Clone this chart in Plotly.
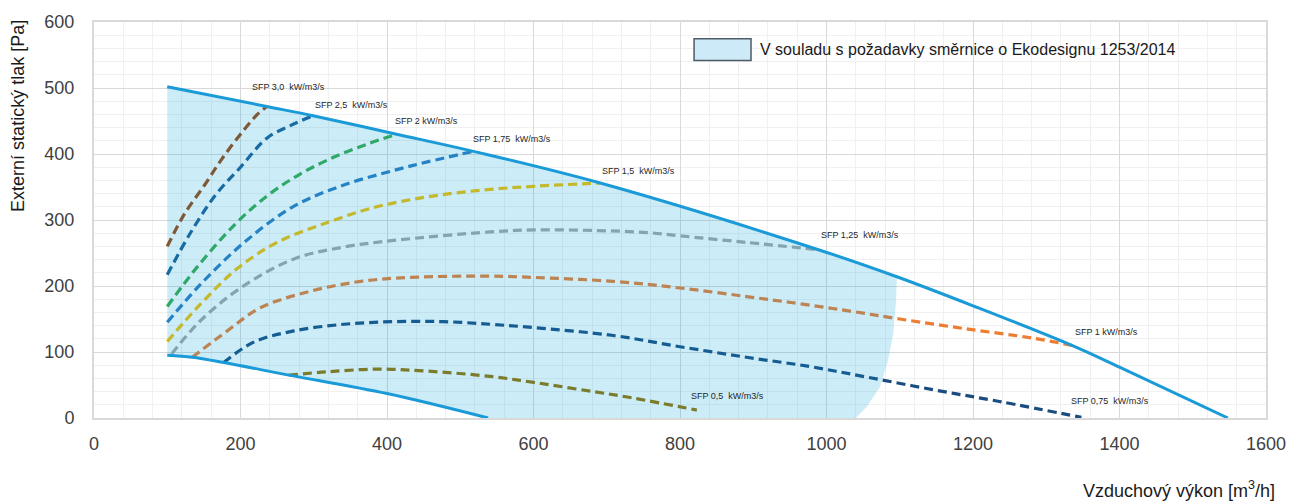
import plotly.graph_objects as go

# ---------------- data ----------------
upper_x = [100, 236, 299, 413, 518, 691, 989, 1096, 1200, 1335, 1400, 1548]
upper_y = [502, 472, 458, 430, 404, 356, 255, 214, 170, 110, 77, 0]
lower_x = [100, 134, 177, 266, 400, 538]
lower_y = [95, 92, 84, 65, 37, 0]
edge_x = [1096, 1095, 1091, 1084, 1073, 1055, 1040]
edge_y = [214, 177, 127, 87, 47, 17, 0]

sfp30_x = [100, 124, 151, 173, 200, 223, 236]
sfp30_y = [260, 310, 353, 390, 430, 460, 472]
sfp25_x = [100, 132, 166, 200, 236, 268, 299]
sfp25_y = [217, 281, 338, 380, 424, 443, 458]
sfp20_x = [100, 141, 193, 238, 282, 327, 373, 413]
sfp20_y = [169, 229, 294, 338, 370, 395, 415, 430]
sfp175_x = [100, 145, 205, 273, 341, 409, 455, 518]
sfp175_y = [145, 202, 266, 321, 353, 375, 388, 404]
sfp15_x = [100, 145, 195, 250, 318, 386, 455, 527, 600, 691]
sfp15_y = [116, 172, 226, 266, 296, 320, 335, 345, 351, 356]
sfp125_x = [106, 145, 200, 273, 341, 409, 541, 600, 686, 755, 800, 891, 989]
sfp125_y = [97, 147, 197, 241, 259, 269, 282, 285, 284, 281, 276, 266, 255]
sfp10_x = [134, 182, 227, 295, 364, 432, 541, 600, 709, 800, 891, 964, 1032, 1100, 1191, 1282, 1335]
sfp10_y = [92, 132, 167, 192, 207, 213, 215, 213, 207, 197, 184, 173, 162, 150, 135, 121, 110]
sfp075_x = [177, 218, 273, 341, 409, 477, 541, 600, 709, 800, 891, 977, 1055, 1145, 1236, 1348]
sfp075_y = [84, 115, 132, 142, 146, 146, 142, 137, 125, 108, 92, 78, 62, 43, 25, 1]
sfp05_x = [266, 318, 386, 455, 541, 600, 664, 732, 823]
sfp05_y = [65, 70, 74, 71, 63, 54, 43, 31, 12]

label_texts = ["SFP 3,0\u00a0 kW/m3/s", "SFP 2,5\u00a0 kW/m3/s", "SFP 2 kW/m3/s",
               "SFP 1,75\u00a0 kW/m3/s", "SFP 1,5\u00a0 kW/m3/s", "SFP 1,25\u00a0 kW/m3/s",
               "SFP 1 kW/m3/s", "SFP 0,75\u00a0 kW/m3/s", "SFP 0,5\u00a0 kW/m3/s"]
label_x = [213, 299, 408, 514, 691, 990, 1336, 1331, 812]
label_y = [502, 474, 450, 423, 375, 278, 130, 26, 33]

legend_text = "V souladu s požadavky směrnice o Ekodesignu 1253/2014"
x_title = "Vzduchový výkon [m<sup>3</sup>/h]"
y_title = "Externí statický tlak [Pa]"

# ---------------- styling ----------------
FONT = "Liberation Sans, Arial, sans-serif"
series = [
    (sfp30_x, sfp30_y, "#9E480E"),
    (sfp25_x, sfp25_y, "#1E5F95"),
    (sfp20_x, sfp20_y, "#3CAB4C"),
    (sfp175_x, sfp175_y, "#2E7BC0"),
    (sfp15_x, sfp15_y, "#F5BE00"),
    (sfp125_x, sfp125_y, "#A5A5A5"),
    (sfp10_x, sfp10_y, "#ED7D31"),
    (sfp075_x, sfp075_y, "#1A4C80"),
    (sfp05_x, sfp05_y, "#997300"),
]

fig = go.Figure()

for xs, ys, col in series:
    fig.add_trace(go.Scatter(x=xs, y=ys, mode="lines",
                             line=dict(color=col, width=3.2, dash="9px,5px", shape="spline", smoothing=1.0),
                             showlegend=False, hoverinfo="skip"))

# compliant area polygon
poly_x = [lower_x[0]] + [x for x in upper_x if x <= edge_x[0]] + edge_x[1:] + lower_x[::-1]
poly_y = [lower_y[0]] + [y for x, y in zip(upper_x, upper_y) if x <= edge_x[0]] + edge_y[1:] + lower_y[::-1]
fig.add_trace(go.Scatter(x=poly_x, y=poly_y, mode="lines", fill="toself",
                         fillcolor="rgba(0,158,219,0.2)", line=dict(width=0, color="rgba(0,0,0,0)"),
                         showlegend=False, hoverinfo="skip"))

for xs, ys in [(upper_x, upper_y), (lower_x, lower_y)]:
    fig.add_trace(go.Scatter(x=xs, y=ys, mode="lines",
                             line=dict(color="#1B9AD8", width=3, shape="spline", smoothing=1.0),
                             showlegend=False, hoverinfo="skip"))

annotations = []
for t, x, y in zip(label_texts, label_x, label_y):
    annotations.append(dict(x=x, y=y, xref="x", yref="y", text=t, showarrow=False,
                            xanchor="left", yanchor="middle",
                            font=dict(family=FONT, size=9, color="#262626")))

# custom legend
annotations.append(dict(x=0.5666, y=0.930, xref="paper", yref="paper", text=legend_text,
                        showarrow=False, xanchor="left", yanchor="middle",
                        font=dict(family=FONT, size=16, color="#1a1a1a")))
annotations.append(dict(x=1.0094, y=-0.18, xref="paper", yref="paper", text=x_title,
                        showarrow=False, xanchor="right", yanchor="middle",
                        font=dict(family=FONT, size=18, color="#1a1a1a")))
annotations.append(dict(x=-0.0648, y=0.763, xref="paper", yref="paper", text=y_title,
                        showarrow=False, xanchor="center", yanchor="middle", textangle=-90,
                        font=dict(family=FONT, size=18, color="#1a1a1a")))

shapes = [dict(type="rect", xref="paper", yref="paper", x0=0.512, x1=0.5606, y0=0.9027, y1=0.9576,
               fillcolor="#CCEAF7", line=dict(color="#4F5B66", width=1.5))]

fig.update_layout(
    width=1303, height=503,
    margin=dict(l=94, r=37, t=17, b=85),
    paper_bgcolor="white", plot_bgcolor="white",
    font=dict(family=FONT, size=18, color="#404040"),
    annotations=annotations, shapes=shapes,
    showlegend=False,
)
fig.update_xaxes(range=[0, 1600], dtick=200, tick0=0, showgrid=True, gridcolor="#D9D9D9", gridwidth=1,
                 minor=dict(dtick=40, showgrid=True, gridcolor="#F0F0F0", gridwidth=1),
                 showline=True, linecolor="#D9D9D9", linewidth=2, mirror=True,
                 zeroline=False, ticks="", ticklabelstandoff=8,
                 tickfont=dict(family=FONT, size=18, color="#404040"))
fig.update_yaxes(range=[0, 600], dtick=100, tick0=0, showgrid=True, gridcolor="#D9D9D9", gridwidth=1,
                 minor=dict(dtick=20, showgrid=True, gridcolor="#F0F0F0", gridwidth=1),
                 showline=True, linecolor="#D9D9D9", linewidth=2, mirror=True,
                 zeroline=False, ticks="", ticklabelstandoff=14,
                 tickfont=dict(family=FONT, size=18, color="#404040"))

fig.write_html("out.html")
